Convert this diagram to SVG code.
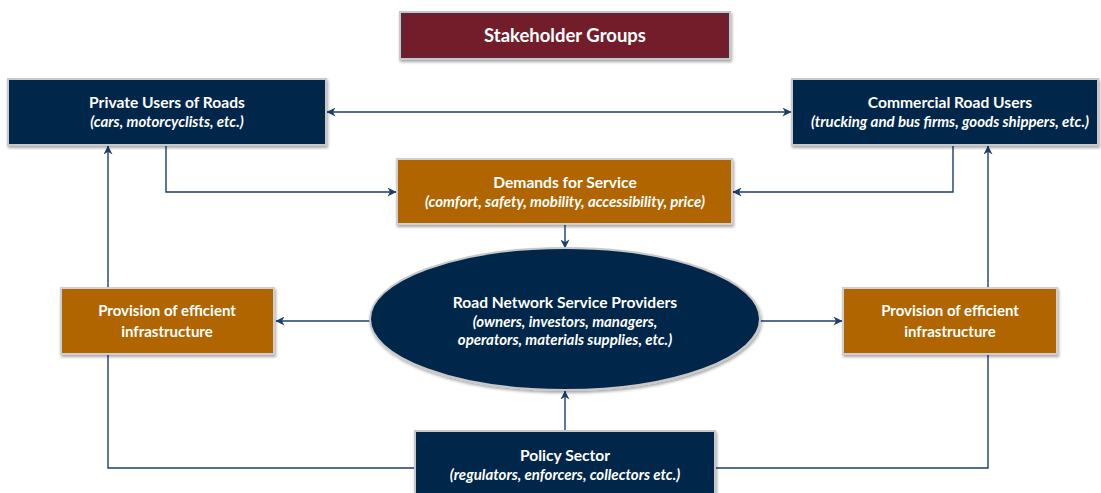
<svg xmlns="http://www.w3.org/2000/svg" width="1101" height="493" viewBox="0 0 1101 493">
<defs>
  <filter id="sh" x="-10%" y="-20%" width="120%" height="150%">
    <feDropShadow dx="1" dy="2" stdDeviation="1.5" flood-color="#000" flood-opacity="0.35"/>
  </filter>
  <marker id="ah" viewBox="0 0 10 10" refX="9.5" refY="5" markerWidth="9" markerHeight="9" markerUnits="userSpaceOnUse" orient="auto-start-reverse">
    <path d="M0,0 L10,5 L0,10 L3,5 z" fill="#1c3d6e"/>
  </marker>
  <style>
    .navy { fill: #00284a; stroke: #c8c8c8; stroke-width: 2; }
    .orange { fill: #b06500; stroke: #cfcfcf; stroke-width: 2; }
    .maroon { fill: #731f29; stroke: #c8c8c8; stroke-width: 2; }
    .t { font-family: Lato, "Liberation Sans", sans-serif; fill: #ffffff; text-anchor: middle; font-weight: bold; }
    .h { font-size: 15.6px; }
    .p { font-size: 15px; }
    .s { font-size: 15px; font-style: italic; }
    .ttl { font-size: 18.5px; }
    .c { fill: none; stroke: #1c3d6e; stroke-width: 1.4; }
  </style>
</defs>
<rect width="1101" height="493" fill="#ffffff"/>

<g id="connectors">
  <line class="c" x1="327" y1="112" x2="791" y2="112" marker-start="url(#ah)" marker-end="url(#ah)"/>
  <polyline class="c" points="166,145 166,192 396,192" marker-end="url(#ah)"/>
  <polyline class="c" points="953,145 953,192 733,192" marker-end="url(#ah)"/>
  <line class="c" x1="565" y1="225" x2="565" y2="248" marker-end="url(#ah)"/>
  <line class="c" x1="370" y1="321" x2="276" y2="321" marker-end="url(#ah)"/>
  <line class="c" x1="760" y1="321" x2="842" y2="321" marker-end="url(#ah)"/>
  <line class="c" x1="565" y1="431" x2="565" y2="391" marker-end="url(#ah)"/>
  <polyline class="c" points="414,468 108,468 108,355"/>
  <line class="c" x1="108" y1="288" x2="108" y2="146" marker-end="url(#ah)"/>
  <polyline class="c" points="716,468 988,468 988,355"/>
  <line class="c" x1="988" y1="288" x2="988" y2="146" marker-end="url(#ah)"/>
</g>

<g id="stakeholder-groups">
  <rect class="maroon" x="400" y="12" width="330" height="47" filter="url(#sh)"/>
  <rect x="402" y="14" width="326" height="43" fill="none" stroke="#3a3550" stroke-width="0.8"/>
  <text class="t ttl" x="565" y="42">Stakeholder Groups</text>
</g>

<g id="private-users">
  <rect class="navy" x="8" y="79" width="318" height="66" filter="url(#sh)"/>
  <text class="t h" x="167" y="108">Private Users of Roads</text>
  <text class="t s" x="167" y="127">(cars, motorcyclists, etc.)</text>
</g>

<g id="commercial-users">
  <rect class="navy" x="792" y="79" width="306" height="66" filter="url(#sh)"/>
  <text class="t h" x="950" y="108">Commercial Road Users</text>
  <text class="t s" x="950" y="127">(trucking and bus firms, goods shippers, etc.)</text>
</g>

<g id="demands">
  <rect class="orange" x="397" y="159" width="335" height="65" filter="url(#sh)"/>
  <text class="t h" x="565" y="188">Demands for Service</text>
  <text class="t s" x="565" y="207">(comfort, safety, mobility, accessibility, price)</text>
</g>

<g id="providers">
  <ellipse class="navy" cx="565" cy="319" rx="195" ry="71" filter="url(#sh)"/>
  <text class="t h" x="565" y="308">Road Network Service Providers</text>
  <text class="t s" x="565" y="327">(owners, investors, managers,</text>
  <text class="t s" x="565" y="345">operators, materials supplies, etc.)</text>
</g>

<g id="provision-left">
  <rect class="orange" x="61" y="288" width="213" height="66" filter="url(#sh)"/>
  <text class="t p" x="167" y="316">Provision of efficient</text>
  <text class="t p" x="167" y="337">infrastructure</text>
</g>

<g id="provision-right">
  <rect class="orange" x="843" y="288" width="214" height="66" filter="url(#sh)"/>
  <text class="t p" x="950" y="316">Provision of efficient</text>
  <text class="t p" x="950" y="337">infrastructure</text>
</g>

<g id="policy-sector">
  <rect class="navy" x="415" y="431" width="300" height="70" filter="url(#sh)"/>
  <text class="t h" x="565" y="461">Policy Sector</text>
  <text class="t s" x="565" y="480">(regulators, enforcers, collectors etc.)</text>
</g>
</svg>
